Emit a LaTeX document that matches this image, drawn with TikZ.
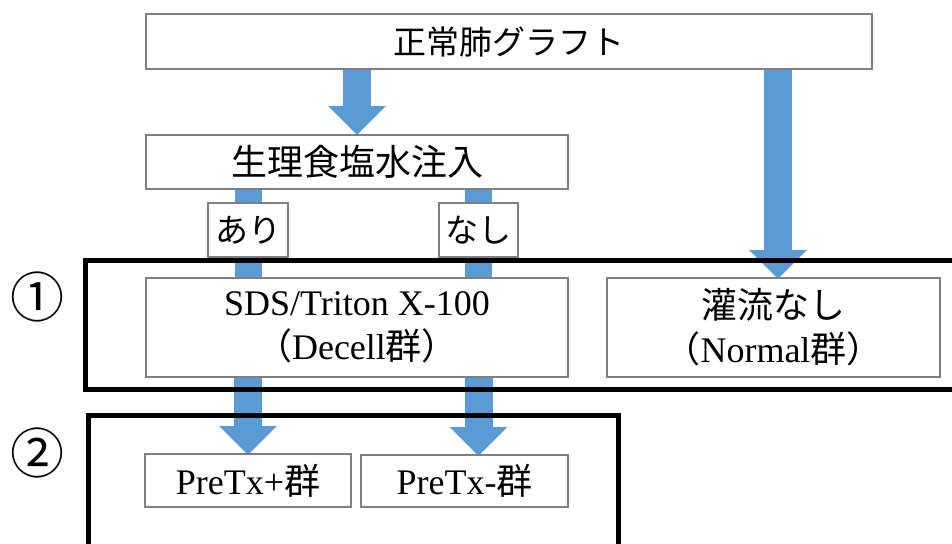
\documentclass[tikz,border=0pt]{standalone}
\usepackage{fontspec}
\setmainfont{Liberation Serif}
\newfontfamily\jp{Noto Sans CJK JP}
\usetikzlibrary{arrows.meta}
\definecolor{arrowblue}{HTML}{5B9BD5}
\definecolor{boxgray}{HTML}{7F7F7F}
\pgfdeclarelayer{bg}
\pgfsetlayers{bg,main}
\tikzset{
  box/.style={draw=boxgray, line width=1.2pt, fill=white, inner sep=0pt, outer sep=0pt, align=center},
  jptext/.style={font=\jp\fontsize{33}{40}\selectfont},
  serif/.style={font=\fontsize{36}{44}\selectfont},
  bigarrow/.style={draw=arrowblue, line width=28pt, -{Triangle[width=56pt,length=29pt,fill=arrowblue]}},
  bluebar/.style={draw=arrowblue, line width=27pt},
  groupframe/.style={draw=black, line width=5pt},
  circnum/.style={font=\jp\fontsize{54}{60}\selectfont, inner sep=0pt}
}
\begin{document}
\begin{tikzpicture}[x=1pt,y=-1pt]
\useasboundingbox (0,0) rectangle (952,543);
\begin{scope}
\clip (0,0) rectangle (952,543);
% boxes
\node[box, jptext, minimum width=726pt, minimum height=55pt] (top) at (509,41.5) {正常肺グラフト};
\node[box, jptext, font=\jp\fontsize{36}{40}\selectfont, minimum width=422pt, minimum height=54pt] (saline) at (357,162) {生理食塩水注入};
\node[box, jptext, minimum width=80pt, minimum height=54pt] (ari) at (248,230) {あり};
\node[box, jptext, minimum width=79pt, minimum height=54pt] (nashi) at (478.5,230) {なし};
\node[box, serif, minimum width=422pt, minimum height=99pt] (decell) at (357,327.5) {SDS/Triton X-100\\{\jp （}Decell{\jp 群）}};
\node[box, serif, minimum width=333pt, minimum height=99pt] (normal) at (773.5,327.5) {{\jp 灌流なし}\\{\jp （}Normal{\jp 群）}};
\node[box, serif, minimum width=206pt, minimum height=53pt] (pretxp) at (248,480.5) {PreTx+{\jp 群}};
\node[box, serif, minimum width=207pt, minimum height=52pt] (pretxm) at (464.5,481) {PreTx-{\jp 群}};
\coordinate (rx) at (778,0);
% connectors
\begin{pgfonlayer}{bg}
\draw[bigarrow] (top.south -| saline.north) -- (saline.north);
\draw[bigarrow] (top.south -| rx) -- ([yshift=-1pt]normal.north -| rx);
\draw[bluebar] (saline.south -| ari) -- (decell.north -| ari);
\draw[bluebar] (saline.south -| nashi) -- (decell.north -| nashi);
\draw[bigarrow] (decell.south -| ari) -- ([yshift=-1pt]pretxp.north -| ari);
\draw[bigarrow] (decell.south -| nashi) -- ([yshift=-1pt]pretxm.north -| nashi);
\end{pgfonlayer}
% group frames
\draw[groupframe] (85.5,260.5) rectangle (975,389.5);
\draw[groupframe] (88.5,415.5) rectangle (618.5,570);
\node[circnum] (c1) at (37,297) {①};
\node[circnum] (c2) at (37,453) {②};
\end{scope}
\end{tikzpicture}
\end{document}
